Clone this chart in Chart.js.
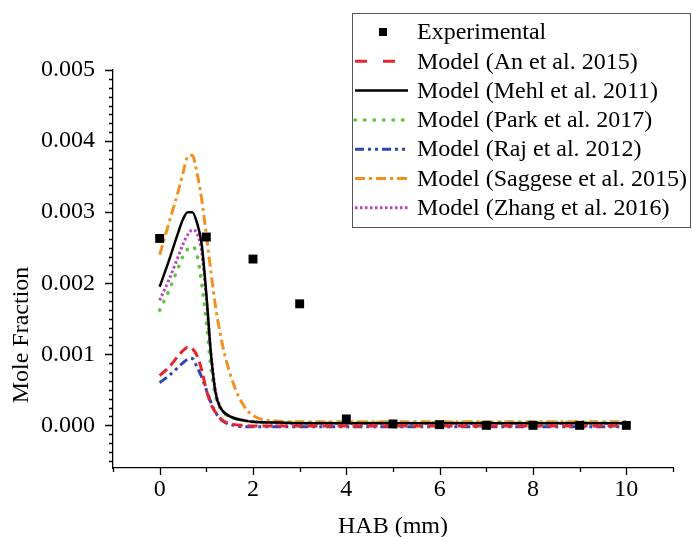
<!DOCTYPE html>
<html>
<head>
<meta charset="utf-8">
<script src="https://cdn.jsdelivr.net/npm/chart.js@4.4.1/dist/chart.umd.min.js"></script>
<style>
  html, body { margin: 0; padding: 0; background: #fff; }
  #wrap { width: 692px; height: 537px; }
</style>
</head>
<body>
<div id="wrap"><canvas id="moleChart" width="692" height="537"></canvas></div>
<script>
(() => {
  'use strict'

  // Experimental points
  const expHab = [0, 1, 2, 3, 4, 5, 6, 7, 8, 9, 10]
  const expMole = [0.00263, 0.00265, 0.00234, 0.00171, 0.00009, 0.00002, 0.00001, 0.0, 0.0, 0.0, 0.0]

  // Model curves, all on the same HAB grid
  const modelHab = [0, 0.2, 0.4, 0.5, 0.6, 0.7, 0.8, 0.9, 1.0, 1.1, 1.2, 1.3, 1.4, 1.6, 1.8, 2.0, 2.5, 3, 4, 5, 6, 7, 8, 9, 10]
  const anModel = [0.00070, 0.00082, 0.00098, 0.00105, 0.00110, 0.00108, 0.00098, 0.00078, 0.00050, 0.00030, 0.00018, 0.00010, 0.00005, 0.00001, 0.0, -0.00001, -0.00001, -0.00001, -0.00001, -0.00001, -0.00001, -0.00001, -0.00001, -0.00001, -0.00001]
  const mehlModel = [0.00195, 0.00232, 0.00272, 0.00290, 0.00300, 0.00300, 0.00285, 0.00255, 0.00185, 0.00100, 0.00045, 0.00025, 0.00017, 0.00010, 0.00007, 0.00005, 0.00004, 0.00003, 0.00003, 0.00003, 0.00003, 0.00003, 0.00003, 0.00003, 0.00003]
  const parkModel = [0.00162, 0.00190, 0.00222, 0.00238, 0.00248, 0.00252, 0.00240, 0.00200, 0.00145, 0.00080, 0.00040, 0.00024, 0.00016, 0.00010, 0.00007, 0.00005, 0.00004, 0.00004, 0.00004, 0.00004, 0.00004, 0.00004, 0.00004, 0.00004, 0.00004]
  const rajModel = [0.00060, 0.00070, 0.00082, 0.00088, 0.00093, 0.00094, 0.00082, 0.00068, 0.00050, 0.00032, 0.00018, 0.00009, 0.00004, 0.0, -0.00002, -0.00002, -0.00002, -0.00002, -0.00002, -0.00002, -0.00002, -0.00002, -0.00002, -0.00002, -0.00002]
  const saggeseModel = [0.00240, 0.00285, 0.00330, 0.00355, 0.00378, 0.00380, 0.00355, 0.00318, 0.00268, 0.00215, 0.00166, 0.00128, 0.00098, 0.00055, 0.00028, 0.00014, 0.00006, 0.00005, 0.00005, 0.00005, 0.00005, 0.00005, 0.00005, 0.00005, 0.00005]
  const zhangModel = [0.00176, 0.00205, 0.00238, 0.00255, 0.00268, 0.00275, 0.00270, 0.00245, 0.00178, 0.00100, 0.00048, 0.00026, 0.00017, 0.00010, 0.00007, 0.00005, 0.00003, 0.00003, 0.00003, 0.00003, 0.00003, 0.00003, 0.00003, 0.00003, 0.00003]

  // Axis labels
  const xTickValues = [0, 2, 4, 6, 8, 10]
  const yTickValues = [0, 0.001, 0.002, 0.003, 0.004, 0.005]

  const FONT = 'Liberation Serif'
  const pts = (xs, ys) => xs.map((x, i) => ({ x, y: ys[i] }))

  const modelLine = (label, values, color, dash, width, legendDash, cap) => ({
    label,
    data: pts(modelHab, values),
    borderColor: color,
    backgroundColor: color,
    borderWidth: width,
    borderDash: dash,
    borderCapStyle: cap || 'butt',
    legendDash: legendDash || dash,
    pointRadius: 0,
    fill: false,
    cubicInterpolationMode: 'monotone'
  })

  // axis ticks, y title and the boxed legend
  const decor = {
    id: 'decor',
    afterDraw (chart) {
      const { ctx, chartArea, scales: { x, y } } = chart
      ctx.save()
      ctx.strokeStyle = '#000'
      ctx.lineWidth = 1.3
      ctx.beginPath()
      for (let v = -1; v <= 11; v++) {
        const px = Math.round(x.getPixelForValue(v)) + 0.5
        const len = v % 2 === 0 ? 7 : 4
        ctx.moveTo(px, chartArea.bottom)
        ctx.lineTo(px, chartArea.bottom + len)
      }
      for (let k = -4; k <= 40; k++) {
        const py = Math.round(y.getPixelForValue(k * 0.000125)) + 0.5
        const len = k % 8 === 0 ? 8 : 4
        ctx.moveTo(chartArea.left, py)
        ctx.lineTo(chartArea.left - len, py)
      }
      ctx.stroke()

      // y axis title
      ctx.save()
      ctx.translate(22, 335)
      ctx.rotate(-Math.PI / 2)
      ctx.fillStyle = '#000'
      ctx.font = '24px "' + FONT + '"'
      ctx.textAlign = 'center'
      ctx.textBaseline = 'middle'
      ctx.fillText('Mole Fraction', 0, 0)
      ctx.restore()

      // legend
      ctx.fillStyle = '#fff'
      ctx.fillRect(352.5, 13.5, 338, 214)
      ctx.strokeStyle = '#555'
      ctx.lineWidth = 1
      ctx.strokeRect(352.5, 13.5, 338, 214)
      ctx.font = '24px "' + FONT + '"'
      ctx.textAlign = 'left'
      ctx.textBaseline = 'middle'
      chart.data.datasets.forEach((ds, i) => {
        const ry = 32 + i * 29.3
        if (ds.showLine === false) {
          ctx.fillStyle = ds.pointBackgroundColor
          ctx.fillRect(379, ry - 4, 8, 8)
        } else {
          ctx.save()
          ctx.strokeStyle = ds.borderColor
          ctx.lineWidth = ds.borderWidth
          ctx.lineCap = ds.borderCapStyle
          ctx.setLineDash(ds.legendDash)
          ctx.beginPath()
          ctx.moveTo(355, ry)
          ctx.lineTo(408, ry)
          ctx.stroke()
          ctx.restore()
        }
        ctx.fillStyle = '#000'
        ctx.fillText(ds.label, 417, ry + 1)
      })
      ctx.restore()
    }
  }

  const ctx = document.getElementById('moleChart')
  // eslint-disable-next-line no-unused-vars
  const moleChart = new Chart(ctx, {
    type: 'line',
    data: {
      datasets: [
        {
          label: 'Experimental',
          data: pts(expHab, expMole),
          showLine: false,
          pointStyle: 'rect',
          pointRadius: 6.3,
          pointBackgroundColor: '#000',
          pointBorderColor: '#000',
          pointBorderWidth: 0,
          borderColor: '#000',
          order: -1
        },
        modelLine('Model (An et al. 2015)', anModel, '#e8242c', [10, 5], 3, [12, 16]),
        modelLine('Model (Mehl et al. 2011)', mehlModel, '#000000', [], 2.5),
        modelLine('Model (Park et al. 2017)', parkModel, '#5cc83c', [0.5, 9], 3.5, [0.5, 9], 'round'),
        modelLine('Model (Raj et al. 2012)', rajModel, '#3145b0', [9, 4, 3, 4, 3, 4], 3),
        modelLine('Model (Saggese et al. 2015)', saggeseModel, '#f39020', [10, 4, 3, 4], 3),
        modelLine('Model (Zhang et al. 2016)', zhangModel, '#c23fbd', [2.5, 2.5], 3)
      ]
    },
    options: {
      responsive: false,
      animation: false,
      layout: {
        padding: { top: 70, right: 19, bottom: 0, left: 0 }
      },
      plugins: {
        legend: { display: false },
        tooltip: { enabled: false }
      },
      scales: {
        x: {
          type: 'linear',
          min: -1,
          max: 11,
          afterFit: (scale) => { scale.height = 69 },
          afterBuildTicks: (scale) => { scale.ticks = xTickValues.map(v => ({ value: v })) },
          grid: { display: false, drawTicks: false },
          border: { display: true, color: '#000', width: 1.3 },
          ticks: {
            padding: 7,
            color: '#000',
            font: { family: FONT, size: 24 },
            callback: (v) => String(v)
          },
          title: {
            display: true,
            text: 'HAB (mm)',
            color: '#000',
            font: { family: FONT, size: 24, lineHeight: 1.2 },
            padding: { top: 0, bottom: -4 }
          }
        },
        y: {
          type: 'linear',
          min: -0.0006,
          max: 0.005,
          afterFit: (scale) => { scale.width = 113 },
          afterBuildTicks: (scale) => { scale.ticks = yTickValues.map(v => ({ value: v })) },
          grid: { display: false, drawTicks: false },
          border: { display: true, color: '#000', width: 1.3 },
          ticks: {
            padding: 18,
            color: '#000',
            font: { family: FONT, size: 24 },
            callback: (v) => v.toFixed(3)
          }
        }
      }
    },
    plugins: [decor]
  })
})()
</script>
</body>
</html>
